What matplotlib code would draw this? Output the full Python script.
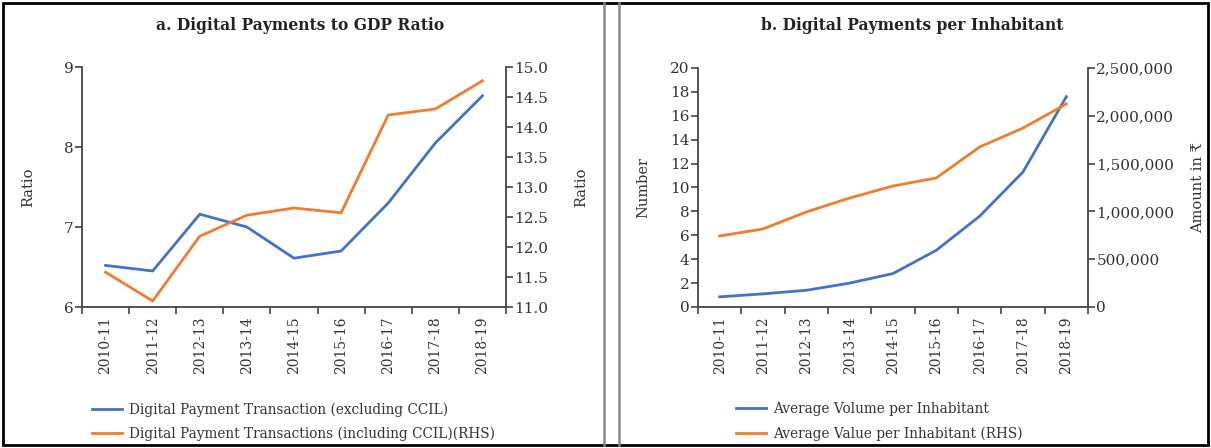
import numpy as np
import matplotlib
matplotlib.use('Agg')
import matplotlib.pyplot as plt
from matplotlib.patches import Rectangle
from matplotlib.lines import Line2D
from matplotlib.ticker import FuncFormatter

plt.rcParams['font.family'] = ['DejaVu Serif', 'DejaVu Sans']
plt.rcParams['axes.unicode_minus'] = False

years = ['2010-11', '2011-12', '2012-13', '2013-14', '2014-15',
         '2015-16', '2016-17', '2017-18', '2018-19']

# panel a: digital payments to GDP ratio
ratio_excl_ccil = [6.52, 6.45, 7.16, 7.00, 6.61, 6.70, 7.30, 8.05, 8.64]
ratio_incl_ccil = [11.58, 11.10, 12.18, 12.53, 12.65, 12.57, 14.20, 14.30, 14.77]

# panel b: digital payments per inhabitant
volume_per_inhabitant = [0.85, 1.1, 1.4, 2.0, 2.8, 4.75, 7.6, 11.3, 17.6]
value_per_inhabitant = [743000, 816000, 994000, 1140000, 1266000,
                        1350000, 1674000, 1872000, 2124000]

BLUE = '#4472C4'
ORANGE = '#ED7D31'
AXIS = '#444444'
TXT = '#333333'

W, H = 1211, 448
fig = plt.figure(figsize=(W / 100, H / 100), dpi=100)


def px_axes(x0, y0, x1, y1):
    # pixel box (top-left origin) -> figure coords
    return fig.add_axes([x0 / W, 1 - y1 / H, (x1 - x0) / W, (y1 - y0) / H])


def style_axes(ax, twin):
    x = np.arange(len(years))
    ax.set_xlim(-0.5, len(years) - 0.5)
    ax.set_xticks(x)
    ax.set_xticklabels(years, rotation=90, fontsize=10, color=TXT)
    ax.set_xticks(np.arange(-0.5, len(years)), minor=True)
    ax.tick_params(axis='x', which='major', length=0, pad=7)
    ax.tick_params(axis='x', which='minor', length=5, width=1.2, color=AXIS)
    ax.tick_params(axis='y', length=5, width=1.2, color=AXIS, labelsize=11,
                   labelcolor=TXT, pad=1)
    twin.tick_params(axis='y', length=5, width=1.2, color=AXIS, labelsize=11,
                     labelcolor=TXT, pad=1)
    for a in (ax, twin):
        a.spines['top'].set_visible(False)
        for s in ('left', 'right', 'bottom'):
            a.spines[s].set_color(AXIS)
            a.spines[s].set_linewidth(1.3)
    ax.spines['right'].set_visible(False)
    twin.spines['left'].set_visible(False)
    twin.spines['bottom'].set_visible(False)


# ---- panel a
ax1 = px_axes(82, 67, 506, 307)
ax1b = ax1.twinx()
x = np.arange(len(years))
ax1.plot(x, ratio_excl_ccil, color=BLUE, lw=2)
ax1b.plot(x, ratio_incl_ccil, color=ORANGE, lw=2)
ax1.set_ylim(6, 9)
ax1.set_yticks([6, 7, 8, 9])
ax1b.set_ylim(11, 15)
ax1b.set_yticks(np.arange(11, 15.01, 0.5))
ax1b.yaxis.set_major_formatter(FuncFormatter(lambda v, p: f'{v:.1f}'))
style_axes(ax1, ax1b)
ax1.set_ylabel('Ratio', fontsize=10.5, color=TXT, labelpad=21)
ax1b.set_ylabel('Ratio', fontsize=10.5, color=TXT, labelpad=19)
fig.text(300 / W, 1 - 25 / H, 'a. Digital Payments to GDP Ratio',
         ha='center', va='center', fontsize=11.2, fontweight='bold', color='#222222')

# ---- panel b
ax2 = px_axes(698, 68, 1088, 307)
ax2b = ax2.twinx()
ax2.plot(x, volume_per_inhabitant, color=BLUE, lw=2)
ax2b.plot(x, value_per_inhabitant, color=ORANGE, lw=2)
ax2.set_ylim(0, 20)
ax2.set_yticks(np.arange(0, 21, 2))
ax2b.set_ylim(0, 2500000)
ax2b.set_yticks(np.arange(0, 2500001, 500000))
ax2b.yaxis.set_major_formatter(FuncFormatter(lambda v, p: f'{v:,.0f}'))
style_axes(ax2, ax2b)
ax2.set_ylabel('Number', fontsize=10.5, color=TXT, labelpad=14)
ax2b.set_ylabel('Amount in ₹', fontsize=10.5, color=TXT, labelpad=12)
fig.text(912 / W, 1 - 25 / H, 'b. Digital Payments per Inhabitant',
         ha='center', va='center', fontsize=11.2, fontweight='bold', color='#222222')

# legends
h_blue = Line2D([], [], color=BLUE, lw=2)
h_orange = Line2D([], [], color=ORANGE, lw=2)
fig.legend([h_blue, h_orange],
           ['Digital Payment Transaction (excluding CCIL)',
            'Digital Payment Transactions (including CCIL)(RHS)'],
           loc='upper left', bbox_to_anchor=(80 / W, 1 - 390 / H),
           frameon=False, fontsize=9.8, handlelength=2.2, handletextpad=0.5,
           labelspacing=0.75, labelcolor=TXT)
fig.legend([h_blue, h_orange],
           ['Average Volume per Inhabitant',
            'Average Value per Inhabitant (RHS)'],
           loc='upper left', bbox_to_anchor=(724 / W, 1 - 390 / H),
           frameon=False, fontsize=9.8, handlelength=2.2, handletextpad=0.5,
           labelspacing=0.75, labelcolor=TXT)

# frame and divider
fig.patches.append(Rectangle((3 / W, 3 / H), 1205 / W, 442 / H, fill=False,
                             ec='black', lw=2, transform=fig.transFigure))
for xd in (604, 619):
    fig.add_artist(Line2D([xd / W, xd / W], [3 / H, 1 - 3 / H], color='#888888',
                          lw=1.8, transform=fig.transFigure))

fig.savefig('out.png', dpi=100)
